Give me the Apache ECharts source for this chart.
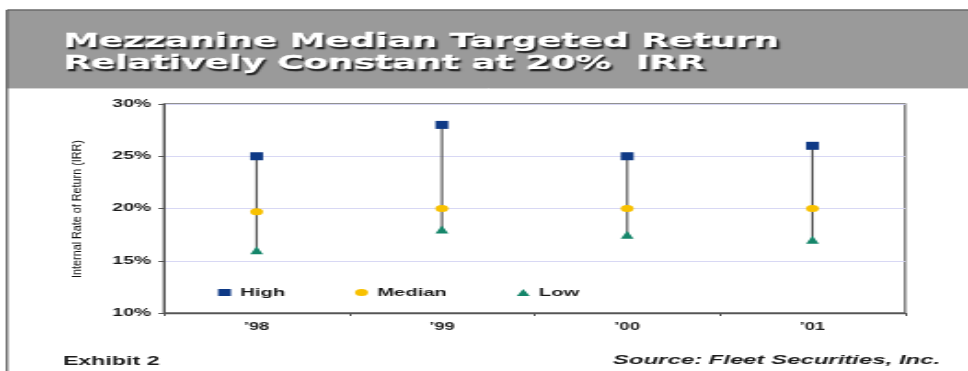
<!DOCTYPE html>
<html>
<head>
<meta charset="utf-8">
<script src="https://cdn.jsdelivr.net/npm/echarts@6/dist/echarts.min.js"></script>
<style>
  html, body { margin: 0; padding: 0; background: #fff; overflow: hidden; }
  /* the reference is a horizontally stretched picture, so the chart is drawn narrow and stretched */
  #chart { width: 526px; height: 371px; transform: scaleX(1.8403); transform-origin: 0 0; }
</style>
</head>
<body>
<div id="chart"></div>
<script>
var years = ['’98', '’99', '’00', '’01'];
var highVals = [25, 28, 25, 26];
var medianVals = [19.7, 20, 20, 20];
var lowVals = [16, 18, 17.5, 17];
var yMin = 10, yMax = 30, yStep = 5;

var SX = 1.8403; // horizontal stretch of the page
var chart = echarts.init(document.getElementById('chart'));

var rangeData = years.map(function (y, i) { return [i, lowVals[i], highVals[i]]; });

var option = {
  backgroundColor: '#fff',
  animation: false,
  grid: {
    show: true,
    left: 89.1,
    right: 34.2,
    top: 104,
    bottom: 58,
    borderColor: '#6e6e6e',
    borderWidth: 1.3,
    backgroundColor: 'rgba(0,0,0,0)'
  },
  graphic: [
    // header band and frame
    { type: 'rect', shape: { x: 3.8, y: 10, width: 530, height: 78 }, style: { fill: '#9a9a9a' }, z: 0 },
    { type: 'line', shape: { x1: 3.8, y1: 10, x2: 530, y2: 10 }, style: { stroke: '#6a6a6a', lineWidth: 1.5 } },
    { type: 'line', shape: { x1: 3.8, y1: 88.5, x2: 530, y2: 88.5 }, style: { stroke: '#d4d4d4', lineWidth: 1 } },
    { type: 'line', shape: { x1: 3.8, y1: 10, x2: 3.8, y2: 371 }, style: { stroke: '#555', lineWidth: 1.2 } },
    {
      type: 'text', left: 34.2, top: 31, z: 10,
      style: {
        text: 'Mezzanine Median Targeted Return\nRelatively Constant at 20%  IRR',
        fill: '#fff',
        stroke: '#fff',
        lineWidth: 0.5,
        font: 'bold 19.5px "DejaVu Sans"',
        lineHeight: 22,
        shadowColor: 'rgba(30,30,30,0.95)', shadowOffsetX: 1.1, shadowOffsetY: 2, shadowBlur: 1,
        textShadowColor: 'rgba(30,30,30,0.95)', textShadowOffsetX: 1.1, textShadowOffsetY: 2, textShadowBlur: 1
      }
    },
    // y axis title, squeezed back so the stretch leaves it upright
    {
      type: 'text', x: 42.2, y: 209, rotation: Math.PI / 2, scaleX: 0.83, scaleY: 0.9 / SX, z: 10,
      style: {
        text: 'Internal Rate of Return (IRR)',
        fill: '#111',
        font: '13px "Liberation Sans"',
        align: 'center', verticalAlign: 'middle'
      }
    },
    {
      type: 'text', left: 34.2, top: 355,
      style: { text: 'Exhibit 2', fill: '#1a1a1a', font: 'bold 12.6px "Liberation Sans"' }
    },
    {
      type: 'text', right: 15.2, top: 354,
      style: { text: 'Source: Fleet Securities, Inc.', fill: '#1a1a1a', font: 'italic bold 13px "Liberation Sans"' }
    }
  ],
  legend: {
    left: 118.5,
    top: 287,
    padding: 0,
    itemGap: 38,
    itemWidth: 7,
    itemHeight: 7,
    textStyle: { color: '#1a1a1a', fontFamily: 'Liberation Sans', fontWeight: 'bold', fontSize: 11 },
    data: [
      { name: 'High', icon: 'rect' },
      { name: 'Median', icon: 'circle' },
      { name: 'Low', icon: 'triangle' }
    ]
  },
  xAxis: {
    type: 'category',
    data: years,
    boundaryGap: true,
    axisLine: { lineStyle: { color: '#555', width: 1.3 } },
    axisTick: { show: true, length: 3, lineStyle: { color: '#555' } },
    axisLabel: { color: '#222', fontFamily: 'Liberation Sans', fontWeight: 'bold', fontSize: 10, margin: 9 },
    splitLine: { show: false }
  },
  yAxis: {
    type: 'value',
    min: yMin,
    max: yMax,
    interval: yStep,
    axisLine: { show: true, lineStyle: { color: '#555', width: 1 } },
    axisTick: { show: true, length: 3, lineStyle: { color: '#555' } },
    axisLabel: {
      formatter: '{value}%',
      color: '#1a1a1a', fontFamily: 'Liberation Sans', fontWeight: 'bold', fontSize: 10.5, margin: 7
    },
    splitLine: { show: true, lineStyle: { color: '#d8d8f4', width: 1 } }
  },
  series: [
    {
      name: 'range',
      type: 'custom',
      data: rangeData,
      z: 1,
      renderItem: function (params, api) {
        var p1 = api.coord([api.value(0), api.value(1)]);
        var p2 = api.coord([api.value(0), api.value(2)]);
        return {
          type: 'line',
          shape: { x1: p1[0], y1: p1[1], x2: p2[0], y2: p2[1] },
          style: { stroke: '#5a5a5a', lineWidth: 1.2 }
        };
      }
    },
    {
      name: 'High', type: 'scatter', data: highVals, symbol: 'rect', symbolSize: [7, 8], z: 3,
      itemStyle: { color: '#0f3a86', opacity: 1 }
    },
    {
      name: 'Median', type: 'scatter', data: medianVals, symbol: 'circle', symbolSize: [7, 7], z: 3,
      itemStyle: { color: '#f8c100', opacity: 1 }
    },
    {
      name: 'Low', type: 'scatter', data: lowVals, symbol: 'triangle', symbolSize: [7, 8], z: 3,
      itemStyle: { color: '#15866a', opacity: 1 }
    }
  ]
};

chart.setOption(option);
</script>
</body>
</html>
